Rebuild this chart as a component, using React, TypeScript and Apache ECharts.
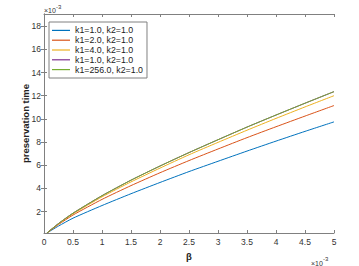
import React, { useEffect, useRef } from "react";
import * as echarts from "echarts";

// units: x in 1e-3, y in 1e-3
const betaValues = [0.05, 0.25, 0.5, 1, 1.5, 2, 2.5, 3, 3.5, 4, 4.5, 5];
const seriesNames = [
  "k1=1.0, k2=1.0",
  "k1=2.0, k2=1.0",
  "k1=4.0, k2=1.0",
  "k1=1.0, k2=1.0",
  "k1=256.0, k2=1.0",
];
const blueValues = [0.15, 0.75, 1.43, 2.52, 3.54, 4.51, 5.45, 6.34, 7.22, 8.08, 8.92, 9.74];
const redValues = [0.15, 0.88, 1.7, 3.05, 4.24, 5.35, 6.4, 7.4, 8.38, 9.32, 10.24, 11.15];
const yellowValues = [0.15, 0.94, 1.8, 3.27, 4.56, 5.75, 6.9, 7.97, 9.02, 10.04, 11.03, 12.0];
const purpleValues = [0.15, 0.97, 1.86, 3.37, 4.71, 5.93, 7.09, 8.2, 9.29, 10.33, 11.35, 12.35];
const greenValues = [0.15, 0.97, 1.86, 3.37, 4.71, 5.93, 7.09, 8.2, 9.29, 10.33, 11.35, 12.35];
const allValues = [blueValues, redValues, yellowValues, purpleValues, greenValues];
const colors = ["#0072BD", "#D95319", "#EDB120", "#7E2F8E", "#77AC30"];
const yTicks = [2, 4, 6, 8, 10, 12, 14, 16, 18];

const FONT = "'Liberation Sans', Arial, Helvetica, sans-serif";
const AXIS_COLOR = "#808080";
const LABEL_COLOR = "#333333";

export default function App() {
  const ref = useRef<HTMLDivElement>(null);
  useEffect(() => {
    document.body.style.margin = "0";
    const chart = echarts.init(ref.current!, undefined, { renderer: "svg" });
    const xAxisBase = {
      type: "value" as const,
      min: 0,
      max: 5,
      interval: 0.5,
      splitLine: { show: false },
      axisLine: { show: true, lineStyle: { color: AXIS_COLOR, width: 1 } },
      axisTick: { show: true, inside: true, length: 3, lineStyle: { color: AXIS_COLOR } },
    };
    const yAxisBase = {
      type: "value" as const,
      min: 0.15,
      max: 19.05,
      splitLine: { show: false },
      axisLine: { show: true, lineStyle: { color: AXIS_COLOR, width: 1 } },
      axisTick: {
        show: true,
        inside: true,
        length: 3,
        customValues: yTicks,
        lineStyle: { color: AXIS_COLOR },
      },
    };
    chart.setOption({
      animation: false,
      textStyle: { fontFamily: FONT },
      grid: { left: 44, right: 25, top: 14, bottom: 23, containLabel: false },
      xAxis: [
        {
          ...xAxisBase,
          position: "bottom",
          name: "β",
          nameLocation: "middle",
          nameGap: 18,
          nameMoveOverlap: false,
          nameTextStyle: { fontFamily: FONT, fontSize: 9.5, fontWeight: "bold", color: "#222" },
          axisLabel: {
            show: true,
            fontSize: 8.5,
            color: LABEL_COLOR,
            fontFamily: FONT,
            margin: 4,
            formatter: (v: number) => String(v),
          },
        },
        { ...xAxisBase, position: "top", axisLabel: { show: false } },
      ],
      yAxis: [
        {
          ...yAxisBase,
          position: "left",
          name: "preservation time",
          nameLocation: "middle",
          nameGap: 14,
          nameMoveOverlap: false,
          nameTextStyle: { fontFamily: FONT, fontSize: 9.5, fontWeight: "bold", color: "#222" },
          axisLabel: {
            show: true,
            fontSize: 8.5,
            color: LABEL_COLOR,
            fontFamily: FONT,
            margin: 3,
            customValues: yTicks,
            formatter: (v: number) => String(v),
          },
        },
        { ...yAxisBase, position: "right", axisLabel: { show: false } },
      ],
      legend: {
        orient: "vertical",
        left: 49,
        top: 22,
        padding: [3.5, 4, 3.5, 3],
        itemGap: 0,
        itemWidth: 18,
        itemHeight: 1.2,
        icon: "rect",
        borderColor: AXIS_COLOR,
        borderWidth: 1,
        backgroundColor: "#fff",
        textStyle: { fontFamily: FONT, fontSize: 8.8, color: "#222", lineHeight: 9.8 },
        data: seriesNames.map((n, i) => n + (i === 3 ? " " : "")),
      },
      graphic: [
        { type: "text", left: 44, top: 7, style: { text: "×10", fontSize: 7, fontFamily: FONT, fill: LABEL_COLOR } },
        { type: "text", left: 56, top: 3.5, style: { text: "-3", fontSize: 6, fontFamily: FONT, fill: LABEL_COLOR } },
        { type: "text", left: 311, top: 259.5, style: { text: "×10", fontSize: 7, fontFamily: FONT, fill: LABEL_COLOR } },
        { type: "text", left: 323, top: 256, style: { text: "-3", fontSize: 6, fontFamily: FONT, fill: LABEL_COLOR } },
      ],
      series: allValues.map((vals, i) => ({
        name: seriesNames[i] + (i === 3 ? " " : ""),
        type: "line",
        xAxisIndex: 0,
        yAxisIndex: 0,
        showSymbol: false,
        symbol: "none",
        smooth: 0.2,
        color: colors[i],
        lineStyle: { width: 1, color: colors[i] },
        data: betaValues.map((b, j) => [b, vals[j]]),
      })),
    });
    return () => chart.dispose();
  }, []);
  return <div ref={ref} style={{ width: 359, height: 266 }} />;
}
